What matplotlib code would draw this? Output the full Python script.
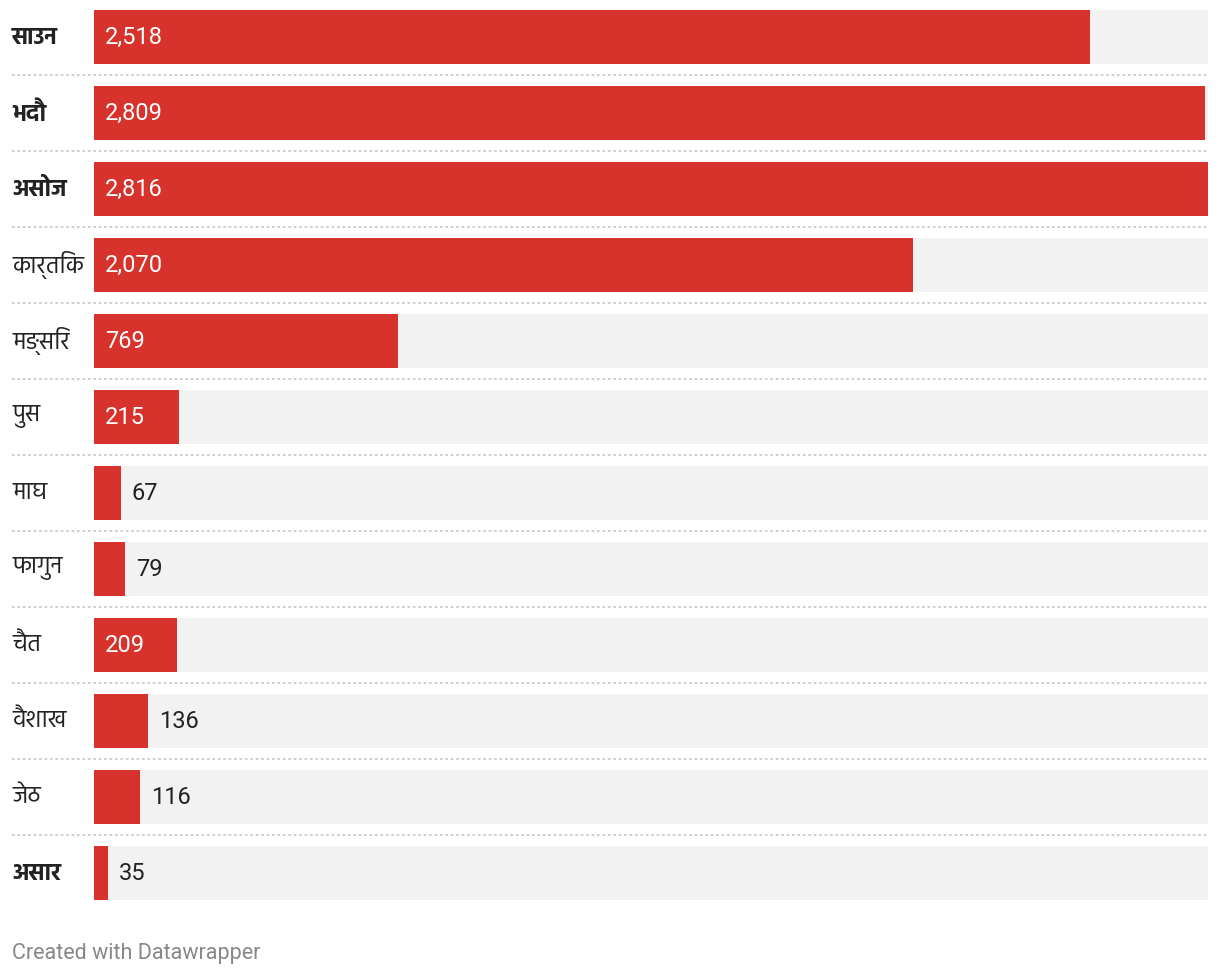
import matplotlib
matplotlib.use('Agg')
import matplotlib.pyplot as plt
from matplotlib import font_manager


months = ['साउन', 'भदौ', 'असोज', 'कार्तिक', 'मङ्सिर', 'पुस', 'माघ', 'फागुन',
          'चैत', 'वैशाख', 'जेठ', 'असार']
values = [2518, 2809, 2816, 2070, 769, 215, 67, 79, 209, 136, 116, 35]
bold_months = ['साउन', 'भदौ', 'असोज', 'असार']

RED = '#d7322c'
GREY_BG = '#f2f2f2'
DARK = '#222222'


def pick_devanagari_family():
    # prefer a devanagari family that has both regular and bold files
    weights = {}
    for f in font_manager.fontManager.ttflist:
        weights.setdefault(f.name, set()).add(f.weight)
    prefs = ['Noto Sans Devanagari', 'Hind', 'Mukta', 'Poppins', 'Biryani',
             'Annapurna SIL', 'FreeSans']
    for name in prefs:
        w = weights.get(name, set())
        if 400 in w and any(x >= 600 for x in w):
            return name
    for name in prefs:
        if name in weights:
            return name
    return 'DejaVu Sans'


deva = pick_devanagari_family()
plt.rcParams['font.family'] = ['Roboto', 'DejaVu Sans']

W, H = 1220, 976
fig = plt.figure(figsize=(W / 100, H / 100), dpi=100)
ax = fig.add_axes([94 / W, 1 - 900 / H, (1208 - 94) / W, (900 - 10) / H])

n = len(months)
ypos = list(range(n))
xmax = max(values)
bar_h = 54 / 76

ax.barh(ypos, [xmax] * n, height=bar_h, color=GREY_BG, zorder=1)
ax.barh(ypos, values, height=bar_h, color=RED, zorder=2)

ax.set_xlim(0, xmax)
ax.set_ylim(n - 1 + 0.5 * bar_h, -0.5 * bar_h)
ax.axis('off')

px = xmax / (1208 - 94)  # data units per pixel
label_x = -82 / 1114
for i, (m, v) in enumerate(zip(months, values)):
    if v > 180:
        ax.text(11 * px, i, f'{v:,}', color='white', fontsize=17,
                va='center', ha='left', zorder=3)
    else:
        ax.text(v + 11 * px, i, f'{v:,}', color=DARK, fontsize=17,
                va='center', ha='left', zorder=3)
    ax.text(label_x, i, m, transform=ax.get_yaxis_transform(),
            fontsize=17, va='center', ha='left', color=DARK,
            family=[deva, 'DejaVu Sans'],
            fontweight='bold' if m in bold_months else 'normal')
    if i < n - 1:
        ax.plot([label_x, 1], [i + 0.5, i + 0.5], transform=ax.get_yaxis_transform(),
                color='#cccccc', lw=1.3, ls=(0, (1.5, 1.5)), clip_on=False, zorder=0)

fig.text(12 / W, 1 - 953 / H, 'Created with Datawrapper', color='#888888',
         fontsize=15.5, va='center', ha='left')

fig.savefig('out.png', dpi=100)
